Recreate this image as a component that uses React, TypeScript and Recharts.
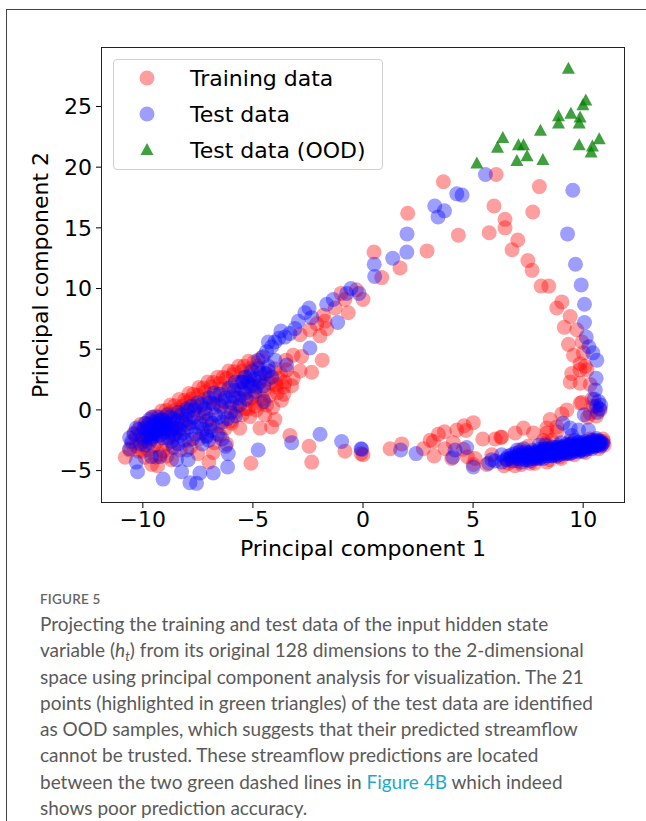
import React from "react";
import { ScatterChart, Scatter, XAxis, YAxis } from "recharts";

// PCA projection values: [PC1, PC2]
const trainingData: [number, number][] = [
  // upper right of the loop
  [6.05, 19.4], [3.65, 18.8], [8.01, 18.4], [5.95, 16.8], [6.45, 15.7], [7.71, 16.3],
  [2.03, 16.2], [6.45, 15.0], [4.33, 14.4], [5.73, 14.6], [7.03, 14.0], [6.77, 13.2],
  [2.91, 13.1], [0.5, 13.0], [1.68, 11.7], [7.49, 12.3], [7.68, 11.5], [0.85, 10.9],
  // right arc
  [8.09, 10.2], [8.44, 10.2], [9.03, 8.9], [8.8, 8.4], [9.41, 7.7], [9.14, 6.8],
  [9.71, 6.6], [9.33, 5.4], [9.95, 5.6], [9.56, 4.5], [10.01, 4.7], [9.86, 3.8],
  [10.09, 3.6], [9.85, 3.3], [10.17, 3.3], [9.48, 3.0], [9.41, 2.3], [9.86, 2.2],
  [10.32, 2.1], [9.86, 0.55], [10.47, 0.3], [10.77, 0.0], [10.32, -0.3], [9.26, 0.0],
  [9.03, -0.33], [8.5, -0.8], [8.8, -1.4], [8.35, -1.9], [8.58, -2.5], [7.74, -1.9],
  [7.29, -1.5], [6.91, -1.9], [9.94, 0.6], [10.6, -0.5], [10.4, 0.9], [10.2, -0.6],
  [8.35, -1.5], [6.3, -2.25], [8.8, -1.8], [8.2, -2.5],
  // bottom middle
  [0.0, -3.7], [1.23, -3.2], [1.76, -2.8], [2.74, -3.2], [3.23, -3.8], [3.05, -2.5],
  [3.2, -2.6], [3.42, -2.0], [3.7, -1.8], [4.1, -2.7], [3.73, -3.2], [4.26, -1.65],
  [4.59, -1.3], [4.68, -1.7], [5.01, -1.05], [5.44, -2.4], [6.0, -2.4], [6.26, -2.25],
  [4.03, -4.0], [4.74, -3.85], [5.09, -4.0], [5.01, -4.5], [5.62, -4.5], [5.85, -3.7],
  [4.56, -3.25],
  // bottom right band
  [6.6, -4.4], [7.0, -4.2], [7.14, -3.3], [7.59, -4.4], [7.9, -4.0], [8.35, -4.3],
  [8.6, -3.3], [8.95, -3.85], [9.3, -3.6], [9.6, -3.0], [9.9, -3.3], [10.2, -2.9],
  [10.5, -3.0], [10.77, -2.75], [10.92, -2.6], [10.6, -2.5], [8.0, -3.6], [7.3, -3.9],
  [6.8, -3.9], [9.1, -3.1], [6.4, -4.6], [7.2, -4.5], [7.8, -4.4], [8.5, -4.1],
  [9.0, -4.0], [9.6, -3.7], [10.1, -3.5], [10.7, -3.2], [10.95, -2.9], [10.9, -2.4],
  [7.5, -3.0], [8.3, -2.7], [9.4, -2.6], [10.3, -2.4], [6.9, -4.6],
  // diagonal arm
  [-1.0, 9.6], [-0.82, 9.1], [0.0, 9.1], [-0.3, 9.9], [-0.67, 8.0], [-1.27, 8.4],
  [-1.8, 7.8], [-1.73, 7.3], [-2.1, 7.1], [-1.65, 6.7], [-2.41, 6.6], [-1.95, 6.1],
  [-2.86, 6.2], [-3.17, 4.5], [-2.79, 4.4], [-1.85, 4.1], [-3.5, 4.1], [-3.47, 3.3],
  [-2.86, 3.2], [-2.33, 3.1], [-3.17, 2.6], [-3.92, 1.9], [-3.24, 2.0], [-3.6, 1.9],
  [-4.6, 0.55], [-4.38, 0.4], [-4.9, 0.3], [-5.21, 0.1], [-5.14, -0.55], [-4.68, -1.5],
  [-4.15, -1.4], [-3.32, -2.1], [-2.45, -3.0], [-2.33, -4.3], [-0.82, -3.4], [-0.09, -3.6],
  [-5.09, -4.4],
  // dense lower-left cluster
  [-10.8, -3.9], [-10.5, -2.8], [-10.3, -2.2], [-10.2, -3.4], [-10.0, -1.8], [-10.0, -2.6],
  [-9.9, -3.9], [-9.8, -1.5], [-9.7, -2.3], [-9.6, -4.5], [-9.5, -1.2], [-9.5, -3.0],
  [-9.33, -4.6], [-9.3, -0.9], [-9.2, -2.0], [-9.1, -3.4], [-9.0, -0.6], [-9.0, -1.5],
  [-8.9, -2.8], [-8.8, -0.3], [-8.7, -4.1], [-8.7, -1.2], [-8.6, -2.2], [-8.5, 0.0],
  [-8.4, -0.8], [-8.3, -3.3], [-8.2, 0.3], [-8.2, -1.6], [-8.0, -0.4], [-8.0, 0.6],
  [-7.9, -2.5], [-7.8, 0.9], [-7.7, -1.0], [-7.6, 0.3], [-7.5, 1.2], [-7.5, -3.6],
  [-7.4, -0.3], [-7.3, -1.9], [-7.2, 1.5], [-7.1, 0.6], [-7.0, -0.8], [-7.0, -4.3],
  [-6.9, 1.9], [-6.8, -3.5], [-6.8, 0.2], [-6.7, 1.2], [-6.6, -1.3], [-6.5, 2.2],
  [-6.5, -2.1], [-6.4, 0.8], [-6.3, -0.2], [-6.2, 2.6], [-6.1, 1.6], [-6.0, -0.9],
  [-5.97, -1.1], [-5.9, 2.9], [-5.8, 1.0], [-5.7, 0.3], [-5.6, 2.3], [-5.5, 3.2],
  [-5.5, -0.4], [-5.4, 1.6], [-5.3, 2.7], [-5.2, 0.8], [-5.1, 3.4], [-5.0, 2.0],
  [-4.9, 1.2], [-4.8, 3.6], [-4.7, 2.6], [-4.5, 1.6], [-4.4, 3.0], [-4.2, 2.2],
  [-4.0, 3.4], [-3.9, 1.4], [-3.8, 2.6], [-3.7, 0.8], [-4.1, 0.2], [-3.6, 1.3],
  [-10.4, -1.9], [-10.1, -1.2], [-9.85, -1.1], [-9.6, -0.6], [-9.4, -0.5], [-9.15, -0.1],
  [-8.95, -0.05], [-8.75, 0.4], [-8.55, 0.35], [-8.35, 0.85], [-8.1, 0.8], [-7.9, 1.35],
  [-7.7, 1.3], [-7.45, 1.85], [-7.25, 1.8], [-7.05, 2.3], [-6.8, 2.25], [-6.6, 2.7],
  [-6.35, 2.7], [-6.1, 3.2], [-5.85, 3.15], [-5.65, 3.6], [-5.4, 3.6], [-5.2, 4.0],
  [-4.95, 3.95], [-4.6, 4.3],
  [-10.6, -3.3], [-10.3, -3.0], [-10.1, -2.1], [-9.9, -2.5], [-9.75, -3.3], [-9.55, -1.8],
  [-9.35, -2.6], [-9.2, -3.7], [-9.05, -1.1], [-8.85, -1.6], [-8.65, -3.0], [-8.45, -1.9],
  [-8.25, -0.3], [-8.05, -1.2], [-7.85, -3.1], [-7.65, 0.1], [-7.45, -2.4], [-7.25, -0.5],
  [-7.15, 0.9], [-6.95, -1.4], [-6.75, -2.7], [-6.55, 0.5], [-6.45, 1.7], [-6.25, -1.5],
  [-6.05, 0.2], [-5.95, 2.0], [-5.75, -0.1], [-5.55, 1.2], [-5.35, 0.1], [-5.25, 2.4],
  [-5.05, 1.0], [-4.85, 0.0], [-4.75, 2.0], [-4.55, 0.9], [-4.35, 2.5], [-4.25, 1.2],
  [-3.95, 2.1], [-3.75, 3.0], [-3.55, 2.3], [-4.45, -0.4], [-4.0, -0.8], [-5.6, -1.5],
  [-6.2, -2.8], [-8.9, -3.8], [-10.0, -3.4], [-9.4, -3.9],
];

const testData: [number, number][] = [
  // upper right
  [5.56, 19.4], [9.53, 18.1], [4.26, 17.8], [4.5, 17.7], [3.26, 16.8], [3.7, 16.4],
  [3.41, 15.9], [2.0, 14.5], [1.99, 13.0], [1.35, 12.5], [0.51, 12.0], [9.29, 14.5],
  [9.65, 12.0], [0.53, 11.0],
  // right arc
  [9.91, 10.3], [10.06, 8.7], [10.06, 7.2], [10.14, 6.0], [10.26, 5.2], [10.44, 4.7],
  [10.62, 4.1], [10.59, 2.6], [10.55, 1.65], [10.7, 0.7], [10.6, 0.3], [10.75, 0.1],
  [10.5, 0.9], [10.65, -0.2], [10.8, 0.4], [10.05, -0.4], [9.08, -1.1], [9.41, -1.5],
  [9.79, -1.65], [10.24, -1.65], [9.48, -2.1],
  // bottom middle
  [-0.06, -3.25], [1.71, -3.3], [2.41, -3.6], [4.18, -3.3], [4.08, -3.9], [4.71, -3.1],
  [5.01, -4.7], [5.7, -4.4], [5.85, -4.1], [6.3, -3.7], [6.53, -4.1],
  [-4.76, -3.3], [-3.24, -2.7], [-1.95, -2.0], [-0.97, -2.6], [-0.09, -3.2],
  // bottom right band
  [6.6, -3.8], [6.8, -4.2], [6.9, -3.6], [7.0, -4.0], [7.1, -3.5], [7.2, -4.3],
  [7.3, -3.8], [7.4, -3.45], [7.5, -4.1], [7.6, -3.7], [7.7, -3.35], [7.8, -4.0],
  [7.9, -3.6], [8.0, -3.25], [8.1, -3.9], [8.2, -3.5], [8.3, -3.15], [8.4, -3.8],
  [8.5, -3.4], [8.6, -3.05], [8.7, -3.7], [8.8, -3.3], [8.9, -2.95], [9.0, -3.6],
  [9.1, -3.2], [9.2, -2.85], [9.3, -3.5], [9.4, -3.1], [9.5, -2.75], [9.6, -3.4],
  [9.7, -3.0], [9.8, -2.65], [9.9, -3.3], [10.0, -2.9], [10.1, -2.6], [10.2, -3.2],
  [10.3, -2.8], [10.4, -2.5], [10.5, -3.0], [10.6, -2.7], [10.7, -2.9], [10.8, -2.6],
  [10.85, -2.8], [7.6, -4.2], [8.2, -4.0], [8.8, -3.8], [9.4, -3.6], [10.0, -3.4],
  [7.0, -3.3], [8.0, -2.9], [6.3, -4.3], [6.0, -4.2],
  [6.7, -4.0], [6.95, -3.85], [7.15, -4.05], [7.25, -3.6], [7.45, -3.9], [7.55, -3.5],
  [7.65, -4.0], [7.75, -3.55], [7.85, -3.8], [7.95, -3.4], [8.05, -3.7], [8.15, -3.3],
  [8.25, -3.75], [8.35, -3.4], [8.45, -3.6], [8.55, -3.2], [8.65, -3.5], [8.75, -3.1],
  [8.85, -3.55], [8.95, -3.2], [9.05, -3.4], [9.15, -3.0], [9.25, -3.3], [9.35, -2.9],
  [9.45, -3.3], [9.55, -2.95], [9.65, -3.2], [9.75, -2.8], [9.85, -3.05], [9.95, -2.7],
  [10.05, -3.1], [10.15, -2.8], [10.25, -3.0], [10.35, -2.65], [10.45, -2.85], [10.55, -2.55],
  [10.65, -2.85], [10.75, -2.7], [10.9, -2.75], [8.0, -4.0], [8.6, -3.8], [9.2, -3.6],
  [9.8, -3.45], [10.4, -3.2], [7.3, -3.2], [8.3, -2.9], [9.0, -2.7], [9.6, -2.5],
  [10.6, -2.35],
  [6.5, -4.05], [6.75, -3.7], [7.05, -3.75], [7.35, -4.1], [7.5, -3.6], [7.7, -3.85],
  [7.9, -3.5], [8.1, -3.6], [8.25, -3.25], [8.4, -3.5], [8.55, -3.75], [8.7, -3.35],
  [8.85, -3.1], [9.0, -3.35], [9.15, -3.45], [9.3, -3.05], [9.45, -2.85], [9.6, -3.15],
  [9.75, -3.3], [9.9, -2.85], [10.05, -2.75], [10.2, -2.95], [10.35, -3.05], [10.5, -2.7],
  [10.7, -2.55], [10.8, -3.0], [8.9, -3.7], [9.5, -3.5], [10.1, -3.25], [7.95, -3.9],
  [7.4, -3.75], [7.8, -3.7], [8.2, -3.4], [8.6, -3.45], [9.0, -3.1], [9.4, -3.25],
  [9.8, -2.95], [10.2, -2.75], [10.6, -2.95], [8.4, -3.3], [8.95, -3.5], [9.9, -3.15],
  // diagonal arm, upper edge
  [-0.55, 10.0], [-0.74, 9.6], [-0.18, 9.6], [-1.35, 9.1], [-1.65, 8.7], [-1.15, 7.2],
  [-2.45, 8.4], [-2.64, 8.0], [-2.33, 7.6], [-2.94, 7.3], [-3.09, 6.7], [-3.32, 6.3],
  [-3.55, 6.0], [-3.73, 6.5], [-3.82, 5.9], [-4.0, 5.6], [-4.3, 5.6], [-4.15, 5.2],
  [-2.41, 5.1], [-4.38, 4.8], [-4.53, 4.4], [-4.76, 4.1], [-4.0, 4.1], [-3.47, 3.7],
  [-4.3, 3.6], [-4.76, 3.4], [-5.05, 3.2], [-4.45, 3.0], [-4.15, 2.7], [-5.36, 2.7],
  [-5.5, 2.3], [-5.2, 2.2],
  // sparse below the lower-left cluster
  [-10.6, -2.3], [-10.6, -3.2], [-10.3, -4.3], [-10.24, -5.1], [-9.08, -5.7], [-8.24, -5.1],
  [-7.86, -6.0], [-7.56, -6.05], [-7.41, -5.2], [-6.8, -5.2], [-6.15, -4.7], [-6.24, -3.0],
  [-6.12, -3.6], [-7.1, -2.2], [-7.94, -4.1], [-8.47, -4.1], [-9.6, -3.85], [-9.23, -3.85],
  // dense lower-left cluster
  [-10.2, -1.6], [-10.0, -2.3], [-9.9, -1.1], [-9.8, -1.9], [-9.7, -0.8], [-9.6, -1.5],
  [-9.6, -2.4], [-9.5, -1.0], [-9.45, -1.4], [-9.4, -2.0], [-9.3, -0.6], [-9.3, -1.7],
  [-9.2, -1.2], [-9.1, -2.3], [-9.0, -0.9], [-9.0, -1.5], [-8.9, -0.4], [-8.8, -1.9],
  [-8.8, -1.1], [-8.7, -2.6], [-8.6, -0.7], [-8.5, -1.5], [-8.4, -0.2], [-8.3, -2.1],
  [-8.2, -1.0], [-8.1, -2.5], [-8.0, 0.1], [-7.9, -1.4], [-7.8, 0.3], [-7.7, -0.6],
  [-7.6, -2.0], [-7.5, 0.6], [-7.4, -1.1], [-7.3, -2.8], [-7.2, 0.1], [-7.1, -0.9],
  [-7.0, 1.0], [-6.9, -1.7], [-6.8, 0.5], [-6.7, -0.4], [-6.5, 1.3], [-6.4, -1.0],
  [-6.3, 0.7], [-6.1, 1.8], [-6.0, -0.2], [-5.9, 1.1], [-5.8, 2.3], [-5.6, 0.4],
  [-5.5, 1.7], [-5.3, 0.9], [-5.1, 2.0], [-4.9, 1.5], [-4.7, 2.3], [-4.5, 0.7],
  [-8.6, -3.1], [-9.9, -2.9], [-10.4, -2.0], [-8.0, -3.3], [-7.0, -2.5], [-6.6, -2.0],
  [-10.5, -2.6], [-10.3, -1.5], [-10.1, -2.8], [-9.95, -1.5], [-9.85, -2.2], [-9.75, -1.2],
  [-9.65, -2.0], [-9.55, -0.6], [-9.5, -1.9], [-9.35, -1.1], [-9.25, -2.1], [-9.15, -0.8],
  [-9.05, -1.8], [-8.95, -1.2], [-8.85, -2.3], [-8.75, -0.6], [-8.65, -1.4], [-8.55, -2.0],
  [-8.45, -0.9], [-8.35, -1.6], [-8.25, -0.4], [-8.15, -1.9], [-8.05, -0.8], [-7.95, -0.1],
  [-7.85, -1.1], [-7.75, -2.4], [-7.65, 0.0], [-7.55, -1.4], [-7.35, 0.4], [-7.25, -1.6],
  [-7.15, -0.3], [-6.95, 0.6], [-6.85, -1.1], [-6.75, 1.4], [-6.55, -0.6], [-6.45, 0.3],
  [-6.25, 1.0], [-6.15, -0.7], [-5.95, 0.6], [-5.85, 1.6], [-5.65, 1.0], [-5.45, 2.3],
  [-5.35, 1.4], [-5.15, 2.8], [-4.95, 2.5], [-4.85, 1.9], [-4.65, 3.0], [-4.5, 2.0],
  [-4.3, 3.2], [-9.7, -2.7], [-8.4, -2.8], [-7.1, -2.1], [-6.4, -2.4], [-5.8, -0.5],
  [-9.8, -1.6], [-9.4, -1.3], [-9.1, -1.6], [-8.7, -1.7], [-9.55, -2.2], [-9.2, -0.9],
];

const oodData: [number, number][] = [
  [9.33, 28.1], [10.12, 25.5], [9.99, 25.1], [8.88, 24.2], [9.44, 24.4], [9.86, 24.1],
  [8.88, 23.6], [9.82, 23.6], [8.06, 23.0], [6.35, 22.4], [6.11, 21.6], [7.06, 21.8],
  [7.29, 21.8], [7.45, 20.9], [6.99, 20.5], [8.17, 20.6], [5.17, 20.3], [9.82, 21.8],
  [10.73, 22.3], [10.42, 21.7], [10.36, 21.2],
];

const xTicks = [-10, -5, 0, 5, 10];
const yTicks = [-5, 0, 5, 10, 15, 20, 25];

const seriesNames = ["Training data", "Test data", "Test data (OOD)"];

const toPoints = (arr: [number, number][]) => arr.map(([x, y]) => ({ x, y }));

const fmt = (v: number) => (v < 0 ? `\u2212${-v}` : `${v}`);

const FONT = "'DejaVu Sans', sans-serif";

const circle = (color: string) => (props: any) =>
  <circle cx={props.cx} cy={props.cy} r={7.5} fill={color} fillOpacity={0.38} />;

const triangle = (props: any) => {
  const { cx, cy } = props;
  return (
    <path
      d={`M${cx},${cy - 7} L${cx + 6.5},${cy + 5} L${cx - 6.5},${cy + 5} Z`}
      fill="#008000"
      fillOpacity={0.75}
    />
  );
};

function LegendBox() {
  const row = { display: "flex", alignItems: "center", height: 36 } as const;
  return (
    <div
      style={{
        position: "absolute", left: 113, top: 59, width: 270, height: 111,
        border: "1px solid #d0d0d0", borderRadius: 4, background: "rgba(255,255,255,0.8)",
        fontFamily: FONT, fontSize: 22, color: "#000", boxSizing: "border-box",
      }}
    >
      {seriesNames.map((name, i) => (
        <div key={name} style={row}>
          <svg width={76} height={20} style={{ flex: "none" }}>
            {i === 0 && <circle cx={33} cy={10} r={7.5} fill="#ff0000" fillOpacity={0.38} />}
            {i === 1 && <circle cx={33} cy={10} r={7.5} fill="#0000ff" fillOpacity={0.38} />}
            {i === 2 && <path d="M33,3 L39.5,15 L26.5,15 Z" fill="#008000" fillOpacity={0.75} />}
          </svg>
          <span style={{ whiteSpace: "nowrap" }}>{name}</span>
        </div>
      ))}
    </div>
  );
}

const captionLines: React.ReactNode[] = [
  "Projecting the training and test data of the input hidden state",
  <>variable (<i>h<sub style={{ fontSize: "0.7em", verticalAlign: "baseline", position: "relative", top: "0.3em", lineHeight: 0 }}>t</sub></i>) from its original 128 dimensions to the 2-dimensional</>,
  "space using principal component analysis for visualization. The 21",
  "points (highlighted in green triangles) of the test data are identified",
  "as OOD samples, which suggests that their predicted streamflow",
  "cannot be trusted. These streamflow predictions are located",
  <>between the two green dashed lines in <span style={{ color: "#1ea9c6" }}>Figure 4B</span> which indeed</>,
  "shows poor prediction accuracy.",
];

export default function App() {
  return (
    <div style={{ position: "absolute", left: 0, top: 0, width: 646, height: 821, overflow: "hidden", background: "#fff" }}>
      <div style={{ position: "absolute", left: 6, top: 9, width: 700, height: 900, borderLeft: "1px solid #444", borderTop: "1px solid #444" }} />
      <div style={{ position: "absolute", left: 0, top: 0 }}>
        <ScatterChart width={646} height={580} margin={{ top: 47, right: 21, bottom: 37, left: 41 }} style={{ fontFamily: FONT }}>
          <XAxis
            type="number" dataKey="x" domain={[-11.9, 11.9]} ticks={xTicks} tickFormatter={fmt}
            allowDataOverflow axisLine={false} tickSize={5} tickMargin={3} height={40}
            tick={{ fill: "#000", fontSize: 22 }} tickLine={{ stroke: "#000" }}
          />
          <YAxis
            type="number" dataKey="y" domain={[-7.67, 29.9]} ticks={yTicks} tickFormatter={fmt}
            allowDataOverflow axisLine={false} tickSize={5} tickMargin={4} width={60}
            tick={{ fill: "#000", fontSize: 22 }} tickLine={{ stroke: "#000" }}
          />
          <Scatter name={seriesNames[0]} data={toPoints(trainingData)} shape={circle("#ff0000")} isAnimationActive={false} />
          <Scatter name={seriesNames[1]} data={toPoints(testData)} shape={circle("#0000ff")} isAnimationActive={false} />
          <Scatter name={seriesNames[2]} data={toPoints(oodData)} shape={triangle} isAnimationActive={false} />
        </ScatterChart>
      </div>
      {/* plot frame */}
      <div style={{ position: "absolute", left: 101, top: 47, width: 524, height: 456, border: "1px solid #222", boxSizing: "border-box", pointerEvents: "none" }} />
      <LegendBox />
      <div style={{ position: "absolute", left: 163, top: 535, width: 400, textAlign: "center", fontFamily: FONT, fontSize: 22, lineHeight: "28px", whiteSpace: "nowrap" }}>
        Principal component 1
      </div>
      <div style={{ position: "absolute", left: 40, top: 275, transform: "translate(-50%, -50%) rotate(-90deg)", fontFamily: FONT, fontSize: 22, whiteSpace: "nowrap" }}>
        Principal component 2
      </div>
      <div style={{ position: "absolute", left: 40, top: 591, fontFamily: "Lato, sans-serif", fontSize: 13.5, fontWeight: 600, color: "#666", letterSpacing: 0.2 }}>
        FIGURE 5
      </div>
      <div style={{ position: "absolute", left: 40, top: 611, fontFamily: "Lato, sans-serif", fontSize: 19, lineHeight: "26.3px", color: "#5a5a5a" }}>
        {captionLines.map((l, i) => (
          <div key={i} style={{ whiteSpace: "nowrap", height: 26.3 }}>{l}</div>
        ))}
      </div>
    </div>
  );
}
